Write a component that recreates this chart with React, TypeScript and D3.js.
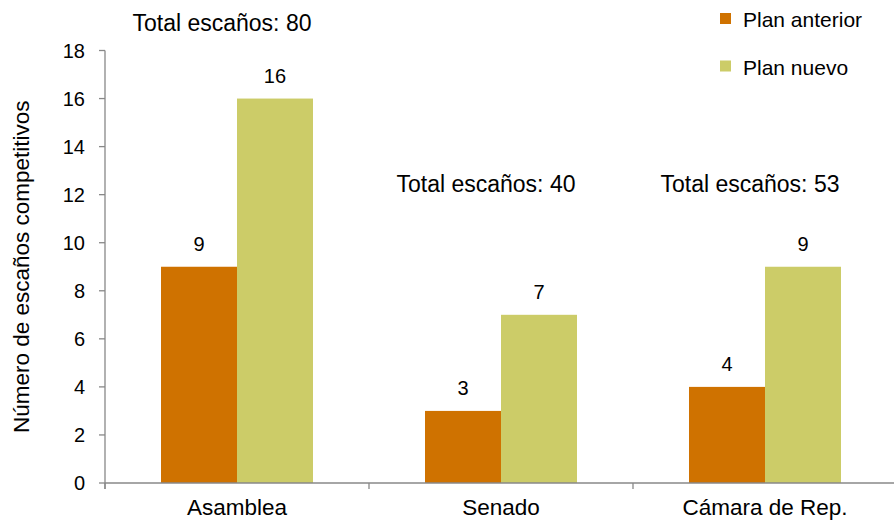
import React from 'react'
import * as d3 from 'd3'

const categories = ['Asamblea', 'Senado', 'Cámara de Rep.']
const series = ['Plan anterior', 'Plan nuevo']
const planAnterior = [9, 3, 4]
const planNuevo = [16, 7, 9]
const totals = ['Total escaños: 80', 'Total escaños: 40', 'Total escaños: 53']
const yTicks = [0, 2, 4, 6, 8, 10, 12, 14, 16, 18]
const colors = ['#CF7200', '#CCCC68']

const W = 894
const H = 521
const FONT = '"Liberation Sans", Arial, sans-serif'

export default function App() {
    const x = d3.scaleBand().domain(categories).range([105, 897]).padding(0)
    const inner = d3.scaleBand().domain(series).range([0, x.bandwidth()])
        .paddingInner(0).paddingOuter(0.737)
    const y = d3.scaleLinear().domain([0, 18]).range([483, 50.5])

    const values = [planAnterior, planNuevo]
    // annotation heights (in data units) differ for the first group
    const annotY = [y(18.8), y(12.1), y(12.1)]

    return (
        <svg width={W} height={H} style={{ position: 'absolute', left: 0, top: 0 }}
            fontFamily={FONT}>
            <rect width={W} height={H} fill="#fff" />

            {/* bars */}
            {series.map((s, si) => (
                <g key={s}>
                    {categories.map((c, ci) => {
                        const v = values[si][ci]
                        const bx = (x(c) ?? 0) + (inner(s) ?? 0)
                        return (
                            <g key={c}>
                                <rect x={bx} y={y(v)} width={inner.bandwidth()}
                                    height={y(0) - y(v)} fill={colors[si]} />
                                <text x={bx + inner.bandwidth() / 2} y={y(v) - 16}
                                    textAnchor="middle" fontSize={20} fill="#000">{v}</text>
                            </g>
                        )
                    })}
                </g>
            ))}

            {/* y axis */}
            <line x1={105} x2={105} y1={y(18)} y2={489} stroke="#888" strokeWidth={1.3} />
            {yTicks.map(t => (
                <g key={t}>
                    <line x1={99} x2={105} y1={y(t)} y2={y(t)} stroke="#888" strokeWidth={1.3} />
                    <text x={85} y={y(t)} dy="0.36em" textAnchor="end" fontSize={20}>{t}</text>
                </g>
            ))}

            {/* x axis */}
            <line x1={105} x2={W} y1={y(0)} y2={y(0)} stroke="#888" strokeWidth={1.3} />
            {categories.map(c => (
                <g key={c}>
                    <line x1={x(c)} x2={x(c)} y1={y(0)} y2={489} stroke="#888" strokeWidth={1.3} />
                    <text x={(x(c) ?? 0) + x.bandwidth() / 2} y={515} textAnchor="middle"
                        fontSize={22.5}>{c}</text>
                </g>
            ))}

            {/* totals */}
            {categories.map((c, i) => (
                <text key={c} x={(x(c) ?? 0) + x.bandwidth() / 2 - 15} y={annotY[i]}
                    textAnchor="middle" fontSize={23}>{totals[i]}</text>
            ))}

            {/* y title */}
            <text transform={`translate(29,${(y(0) + y(18)) / 2}) rotate(-90)`}
                textAnchor="middle" fontSize={22.5}>Número de escaños competitivos</text>

            {/* legend */}
            {series.map((s, i) => (
                <g key={s} transform={`translate(720,${13 + i * 47.5})`}>
                    <rect width={11} height={11} fill={colors[i]} />
                    <text x={23} y={14} fontSize={21}>{s}</text>
                </g>
            ))}
        </svg>
    )
}
